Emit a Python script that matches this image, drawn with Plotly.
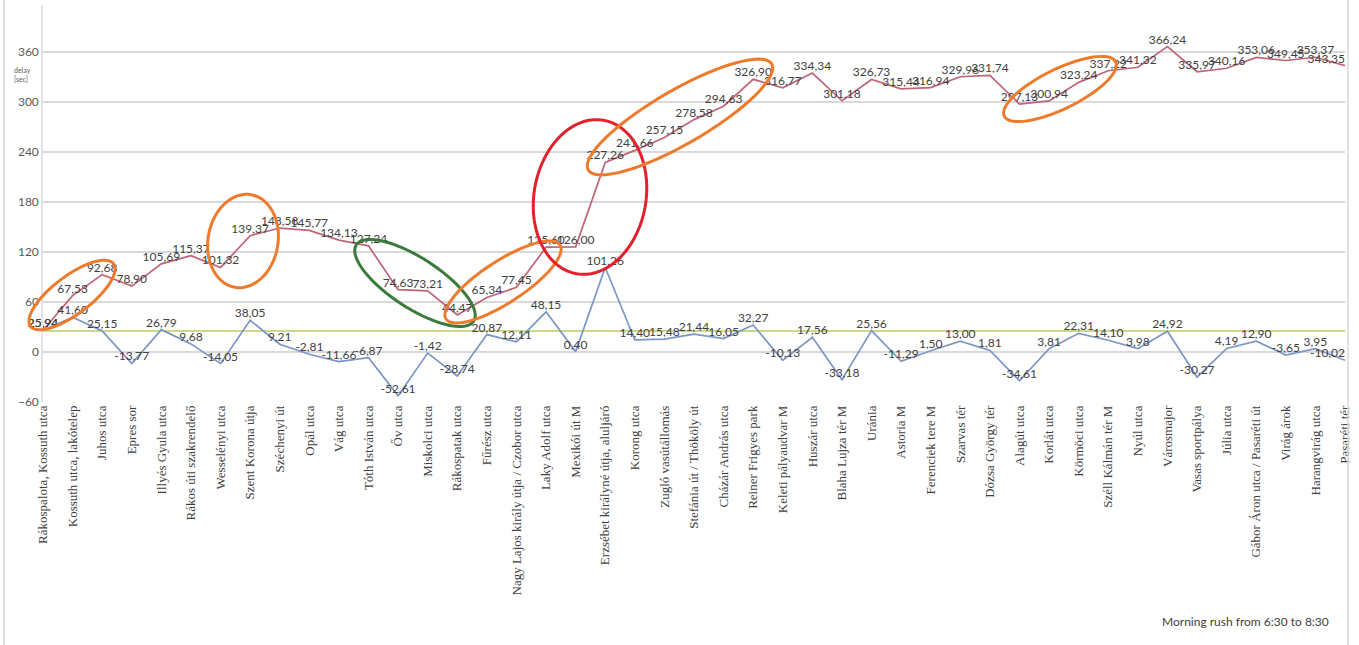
import math
import plotly.graph_objects as go

# Stops of the line, in travel order
stops = [
    "Rákospalota, Kossuth utca", "Kossuth utca, lakótelep", "Juhos utca", "Epres sor",
    "Illyés Gyula utca", "Rákos úti szakrendelő", "Wesselényi utca", "Szent Korona útja",
    "Széchenyi út", "Opál utca", "Vág utca", "Tóth István utca", "Őv utca", "Miskolci utca",
    "Rákospatak utca", "Fűrész utca", "Nagy Lajos király útja / Czobor utca", "Laky Adolf utca",
    "Mexikói út M", "Erzsébet királyné útja, aluljáró", "Korong utca", "Zugló vasútállomás",
    "Stefánia út / Thököly út", "Cházár András utca", "Reiner Frigyes park", "Keleti pályaudvar M",
    "Huszár utca", "Blaha Lujza tér M", "Uránia", "Astoria M", "Ferenciek tere M", "Szarvas tér",
    "Dózsa György tér", "Alagút utca", "Korlát utca", "Körmöci utca", "Széll Kálmán tér M",
    "Nyúl utca", "Városmajor", "Vasas sportpálya", "Júlia utca", "Gábor Áron utca / Pasaréti út",
    "Virág árok", "Harangvirág utca", "Pasaréti tér",
]

# Delay gained on each segment [sec]
segment_delay = [
    25.94, 41.60, 25.15, -13.77, 26.79, 9.68, -14.05, 38.05, 9.21, -2.81,
    -11.66, -6.87, -52.61, -1.42, -28.74, 20.87, 12.11, 48.15, 0.40, 101.26,
    14.40, 15.48, 21.44, 16.05, 32.27, -10.13, 17.56, -33.18, 25.56, -11.29,
    1.50, 13.00, 1.81, -34.61, 3.81, 22.31, 14.10, 3.98, 24.92, -30.27,
    4.19, 12.90, -3.65, 3.95, -10.02,
]

# Accumulated delay at each stop [sec]
cumulative_delay = [
    25.94, 67.53, 92.68, 78.90, 105.69, 115.37, 101.32, 139.37, 148.58, 145.77,
    134.13, 127.24, 74.63, 73.21, 44.47, 65.34, 77.45, 125.60, 126.00, 227.26,
    241.66, 257.15, 278.58, 294.63, 326.90, 316.77, 334.34, 301.18, 326.73, 315.44,
    316.94, 329.96, 331.74, 297.13, 300.94, 323.24, 337.22, 341.32, 366.24, 335.97,
    340.16, 353.06, 349.45, 353.37, 343.35,
]

reference_delay = 25
y_ticks = [-60, 0, 60, 120, 180, 240, 300, 360]


def fmt(v):
    return f"{v:.2f}".replace(".", ",")


W, H = 1359, 645
L, R, T, B = 43, 14, 5, 243
PW, PH = W - L - R, H - T - B

fig = go.Figure()

label_font = dict(family="Lato, Open Sans, sans-serif", size=12, color="#404040")
# keep the last labels inside the chart area
positions = ["top center"] * (len(stops) - 1) + ["top left"]

fig.add_trace(go.Scatter(
    x=stops, y=cumulative_delay, mode="lines+text",
    line=dict(color="#C06478", width=1.7),
    text=[fmt(v) for v in cumulative_delay], textposition=positions,
    textfont=label_font, cliponaxis=False, showlegend=False,
))
fig.add_trace(go.Scatter(
    x=stops, y=segment_delay, mode="lines+text",
    line=dict(color="#7B96C6", width=1.7),
    text=[fmt(v) for v in segment_delay], textposition=positions,
    textfont=label_font, cliponaxis=False, showlegend=False,
))

fig.add_hline(y=reference_delay, line=dict(color="#B7CC63", width=1.5), layer="below")


def to_paper(px, py):
    return (px - L) / PW, (H - B - py) / PH


def ellipse_path(cx, cy, a, b, angle_deg, n=72):
    th = math.radians(angle_deg)
    pts = []
    for i in range(n):
        t = 2 * math.pi * i / n
        ex, ey = a * math.cos(t), b * math.sin(t)
        px = cx + ex * math.cos(th) - ey * math.sin(th)
        py = cy - (ex * math.sin(th) + ey * math.cos(th))
        pts.append(to_paper(px, py))
    return "M " + " L ".join(f"{x:.5f},{y:.5f}" for x, y in pts) + " Z"


ORANGE, RED, GREEN = "#EE7A2C", "#E3202B", "#3A7A3A"
highlights = [
    (72, 295, 52, 19, 37, ORANGE),
    (243, 241, 47, 35, 80, ORANGE),
    (415, 283, 70, 25, -33, GREEN),
    (503, 282, 68, 21, 33, ORANGE),
    (590, 197, 78, 56, 80, RED),
    (680, 117, 106, 27, 30, ORANGE),
    (1060, 89, 62, 20, 26, ORANGE),
]
for cx, cy, a, b, ang, col in highlights:
    fig.add_shape(type="path", path=ellipse_path(cx, cy, a, b, ang),
                  xref="paper", yref="paper", line=dict(color=col, width=3),
                  fillcolor="rgba(0,0,0,0)")

# Chart frame edges
for px in (4, W - 11):
    x0, _ = to_paper(px, 0)
    fig.add_shape(type="line", xref="paper", yref="paper", x0=x0, x1=x0,
                  y0=to_paper(0, H)[1], y1=to_paper(0, 0)[1],
                  line=dict(color="#D9D9D9", width=1.5))

fig.add_annotation(text="delay<br>[sec]", xref="paper", yref="paper",
                   x=to_paper(12, 0)[0], y=to_paper(0, 74)[1], xanchor="left", yanchor="middle",
                   showarrow=False, align="left",
                   font=dict(family="Lato, sans-serif", size=7, color="#595959"))
fig.add_annotation(text="Morning rush from 6:30 to 8:30", xref="paper", yref="paper",
                   x=to_paper(1331, 0)[0], y=to_paper(0, 621)[1], xanchor="right", yanchor="middle",
                   showarrow=False,
                   font=dict(family="Lato, sans-serif", size=12, color="#404040"))

fig.update_layout(
    width=W, height=H,
    margin=dict(l=L, r=R, t=T, b=B),
    paper_bgcolor="white", plot_bgcolor="white",
    xaxis=dict(type="category", range=[0, len(stops) - 1], tickangle=-90,
               showgrid=False, showline=False, ticks="",
               tickfont=dict(family="Liberation Serif, serif", size=13, color="#404040")),
    yaxis=dict(range=[-60, 416], tickvals=y_ticks, showgrid=True,
               gridcolor="#D9D9D9", gridwidth=1.5, zeroline=False,
               showline=True, linecolor="#E3E3E3", linewidth=1.5,
               tickfont=dict(family="Lato, sans-serif", size=12, color="#595959")),
)

fig.write_html("out.html")
